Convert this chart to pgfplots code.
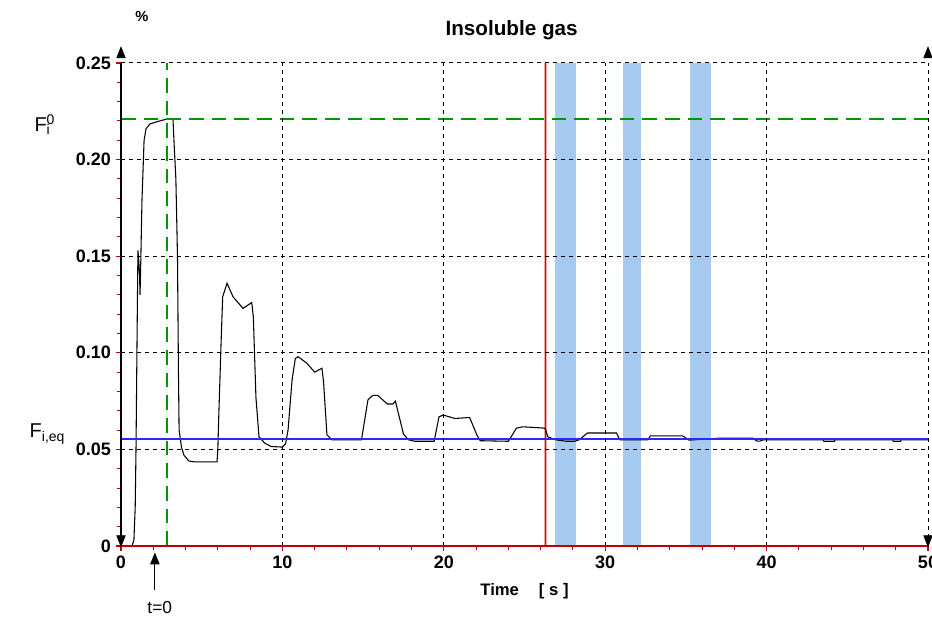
\documentclass[border=0pt]{standalone}
\usepackage{pgfplots}
\pgfplotsset{compat=1.18}
\usepackage{fontspec}
\setmainfont{Liberation Sans}
\usetikzlibrary{arrows.meta}
\definecolor{bandblue}{RGB}{166,202,240}
\definecolor{lineblue}{RGB}{40,40,250}
\definecolor{dkgreen}{RGB}{0,150,0}
\definecolor{tickred}{RGB}{190,0,0}
\definecolor{markred}{RGB}{230,0,0}

\begin{document}
\begin{tikzpicture}
\path[use as bounding box] (-90.75pt,-60.75pt) rectangle (608.25pt,409.5pt);
\begin{axis}[
  at={(0,0)}, anchor=south west,
  scale only axis, width=605.25pt, height=362.25pt,
  xmin=0, xmax=50, ymin=0, ymax=0.25,
  clip=false, axis on top,
  axis x line=bottom, axis y line=left,
  x axis line style={tickred, -, line width=0.9pt},
  y axis line style={black, -, line width=0.9pt},
  xtick={0,10,...,50},
  ytick={0,0.05,0.1,0.15,0.2,0.25},
  yticklabels={0,0.05,0.10,0.15,0.20,0.25},
  minor x tick num=4, minor y tick num=4,
  tick align=outside, major tick length=4pt, minor tick length=3pt,
  every tick/.style={tickred, line width=0.8pt},
  grid=major,
  major grid style={black, line width=0.75pt, dash pattern=on 3pt off 3pt},
  ticklabel style={font=\fontsize{13.5}{15}\selectfont\bfseries},
  /pgf/number format/assume math mode=true,
]
% shaded bands
\addplot[draw=none, fill=bandblue] coordinates {(26.9,0) (28.2,0) (28.2,0.25) (26.9,0.25)} -- cycle;
\addplot[draw=none, fill=bandblue] coordinates {(31.1,0) (32.2,0) (32.2,0.25) (31.1,0.25)} -- cycle;
\addplot[draw=none, fill=bandblue] coordinates {(35.25,0) (36.55,0) (36.55,0.25) (35.25,0.25)} -- cycle;

% time marker
\addplot[draw=markred, line width=1.2pt, mark=none] coordinates {(26.3,0) (26.302,0.25)};

% measured signal
\addplot[black, line width=0.8pt] coordinates {
(0,0) (0.68,0) (0.8,0.003) (0.88,0.02) (0.93,0.05) (1.0,0.112) (1.05,0.153)
(1.1,0.148) (1.15,0.14) (1.18,0.13) (1.22,0.145) (1.3,0.179) (1.43,0.21)
(1.55,0.216) (1.8,0.2185) (2.4,0.22) (2.85,0.221) (3.22,0.221) (3.28,0.21)
(3.4,0.19) (3.5,0.15) (3.56,0.09) (3.6,0.06) (3.75,0.051) (3.9,0.047)
(4.2,0.044) (4.6,0.0435) (5.95,0.0435) (6.0,0.05) (6.05,0.065) (6.2,0.105)
(6.3,0.129) (6.57,0.136) (6.94,0.129) (7.56,0.123) (8.1,0.126) (8.2,0.1185)
(8.36,0.077) (8.55,0.0565) (8.9,0.0533) (9.3,0.0515) (10.0,0.0512)
(10.2,0.053) (10.35,0.06) (10.6,0.086) (10.8,0.097) (10.97,0.098)
(11.5,0.0947) (12.0,0.090) (12.45,0.092) (12.55,0.085) (12.76,0.0575)
(13.07,0.055) (14.9,0.055) (15.3,0.0756) (15.6,0.078) (15.9,0.078)
(16.5,0.0735) (16.85,0.0735) (17.0,0.075) (17.5,0.058) (17.8,0.055)
(18.2,0.0542) (19.4,0.0542) (19.7,0.0668) (19.95,0.0678) (20.7,0.066)
(21.6,0.0665) (22.05,0.0575) (22.25,0.0545) (24.0,0.0542) (24.5,0.061)
(24.9,0.0617) (26.27,0.061) (26.45,0.0565) (26.9,0.055) (27.6,0.0542)
(28.1,0.0542) (28.4,0.055) (28.9,0.0585) (30.7,0.0585) (30.9,0.055)
(32.65,0.055) (32.8,0.057) (34.8,0.057) (35.2,0.0548) (37.05,0.0558)
(39.15,0.0558) (39.4,0.0543) (39.6,0.0543) (39.8,0.055) (43.5,0.055)
(43.55,0.0542) (44.2,0.0542) (44.25,0.055) (47.8,0.055) (47.85,0.0542)
(48.3,0.0542) (48.35,0.055) (50,0.055)
};

% reference levels
\addplot[color=lineblue, line width=1.3pt] coordinates {(0,0.0555) (50,0.0555)};
\addplot[color=dkgreen, line width=0.9pt, dash pattern=on 11pt off 6pt] coordinates {(0,0.221) (50,0.221)};
\addplot[color=dkgreen, line width=0.9pt, dash pattern=on 11pt off 6pt] coordinates {(2.85,0) (2.85,0.25)};

% axis end triangles
\addplot[only marks, mark=triangle*, mark options={black, xscale=0.75, yscale=1.1}, mark size=5pt]
  coordinates {(0,0.2545) (50,0.2545)};
\addplot[only marks, mark=triangle*, mark options={black, xscale=0.75, yscale=1.1, rotate=180}, mark size=5pt]
  coordinates {(0,0.0035) (50,0.0035)};

% texts
\node[font=\fontsize{15.5}{18}\selectfont\bfseries] at (24.2,0.267) {Insoluble gas};
\node[font=\fontsize{11}{12}\selectfont\bfseries] at (1.3,0.274) {\%};
\node[font=\fontsize{12.5}{15}\selectfont\bfseries] at (25.0,-0.0233) {Time\hspace{1.2em}[ s ]};
\node[anchor=west, font=\fontsize{15}{18}\selectfont] at (-5.65,0.218) {F\rlap{\textsubscript{i}}\textsuperscript{0}};
\node[anchor=west, font=\fontsize{15}{18}\selectfont] at (-5.95,0.058) {F\textsubscript{i,eq}};
\draw[-{Triangle[length=9pt,width=7pt]}, line width=0.8pt] (2.1,-0.0228) -- (2.1,-0.0033);
\node[font=\fontsize{13}{15}\selectfont] at (2.4,-0.0316) {t=0};
\end{axis}
\end{tikzpicture}
\end{document}
